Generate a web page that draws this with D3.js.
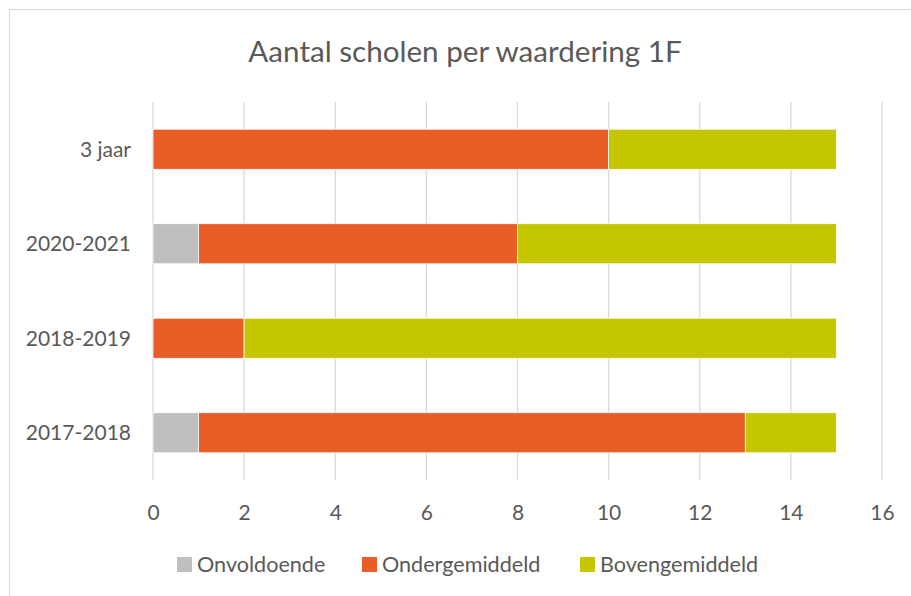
<!DOCTYPE html>
<html><head><meta charset="utf-8">
<script src="https://cdn.jsdelivr.net/npm/d3@7"></script>
<style>body{margin:0;background:#fff}svg{display:block}</style>
</head><body>
<svg id="c" width="911" height="596"></svg>
<script>
const categories = ["3 jaar", "2020-2021", "2018-2019", "2017-2018"];
const seriesNames = ["Onvoldoende", "Ondergemiddeld", "Bovengemiddeld"];
const onvoldoende = [0, 1, 0, 1];
const ondergemiddeld = [10, 7, 2, 12];
const bovengemiddeld = [5, 7, 13, 2];
const xTicks = [0, 2, 4, 6, 8, 10, 12, 14, 16];
const colors = ["#BFBFBF", "#E95E27", "#C4C700"];

const font = "Lato, 'Open Sans', sans-serif";
const textColor = "#595959";
const svg = d3.select("#c");

svg.append("rect").attr("x", 9.5).attr("y", 9.5).attr("width", 910).attr("height", 600)
  .attr("fill", "#fff").attr("stroke", "#d9d9d9");

svg.append("text").attr("x", 465).attr("y", 62).attr("text-anchor", "middle")
  .attr("font-family", font).attr("font-size", 29.6).attr("fill", textColor)
  .text("Aantal scholen per waardering 1F");

const x = d3.scaleLinear().domain([0, 16]).range([153, 882]);
const y = d3.scaleBand().domain(categories).range([102, 480]).paddingInner(0.576).paddingOuter(0.288);

// gridlines
svg.append("g").selectAll("line").data(xTicks).join("line")
  .attr("x1", d => x(d)).attr("x2", d => x(d)).attr("y1", 102).attr("y2", 480)
  .attr("stroke", "#d9d9d9").attr("stroke-width", 1.3);

const rows = categories.map((c, i) => ({cat: c, Onvoldoende: onvoldoende[i], Ondergemiddeld: ondergemiddeld[i], Bovengemiddeld: bovengemiddeld[i]}));
const stack = d3.stack().keys(seriesNames)(rows);

svg.append("g").selectAll("g").data(stack).join("g").attr("fill", (d, i) => colors[i])
  .selectAll("rect").data(d => d.filter(s => s[1] - s[0] > 0)).join("rect")
  .attr("x", d => x(d[0])).attr("width", d => x(d[1]) - x(d[0]))
  .attr("y", d => y(d.data.cat)).attr("height", y.bandwidth())
  .attr("stroke", "#fff").attr("stroke-width", 0.75);

// x axis labels
const xAxis = d3.axisBottom(x).tickValues(xTicks).tickSize(0).tickPadding(0);
const gx = svg.append("g").attr("transform", "translate(0,520)").call(xAxis);
gx.select(".domain").remove();
gx.selectAll("text").attr("font-family", font).attr("font-size", 21).attr("fill", textColor).attr("dy", 0).attr("y", 0);

// y axis labels
const yAxis = d3.axisLeft(y).tickSize(0).tickPadding(0);
const gy = svg.append("g").attr("transform", "translate(131,0)").call(yAxis);
gy.select(".domain").remove();
gy.selectAll("text").attr("font-family", font).attr("font-size", 21).attr("fill", textColor).attr("dy", "0.35em");

// legend
const legendX = [177, 362, 580];
const lg = svg.append("g").selectAll("g").data(seriesNames).join("g")
  .attr("transform", (d, i) => `translate(${legendX[i]},557)`);
lg.append("rect").attr("width", 15).attr("height", 15).attr("fill", (d, i) => colors[i]);
lg.append("text").attr("x", 20).attr("y", 15).attr("font-family", font).attr("font-size", 21.6)
  .attr("fill", textColor).text(d => d);
</script>
</body></html>
